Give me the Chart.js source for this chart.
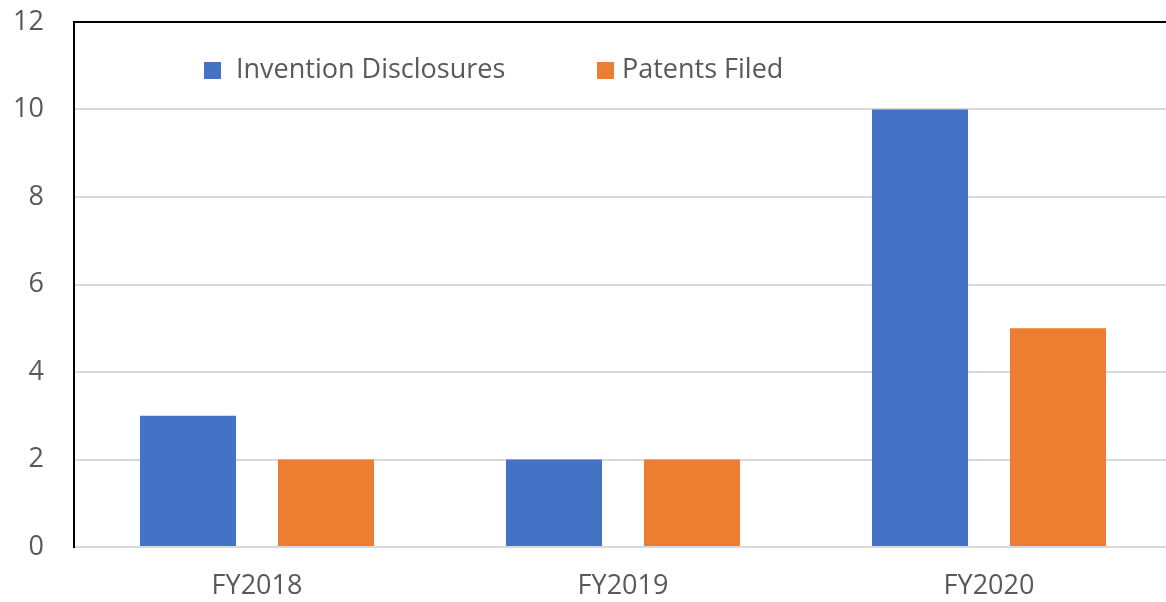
<!DOCTYPE html>
<html>
<head>
<meta charset="utf-8">
<script src="https://cdn.jsdelivr.net/npm/chart.js@4/dist/chart.umd.min.js"></script>
<style>
html,body{margin:0;padding:0;background:#fff;overflow:hidden;width:1166px;height:602px;}
#wrap{width:1172px;height:602px;}
</style>
</head>
<body>
<div id="wrap"><canvas id="c" width="1172" height="602"></canvas></div>
<script>
const categories = ["FY2018", "FY2019", "FY2020"];
const inventionDisclosures = [3, 2, 10];
const patentsFiled = [2, 2, 5];
const seriesNames = ["Invention Disclosures", "Patents Filed"];
const yTicks = [0, 2, 4, 6, 8, 10, 12];

const FONT = "'Open Sans', sans-serif";
const TEXT = '#595959';
const FS = 27;

const insideLegend = {
  id: 'insideLegend',
  afterDraw(chart) {
    const ctx = chart.ctx;
    ctx.save();
    ctx.font = FS + 'px ' + FONT;
    ctx.textBaseline = 'middle';
    ctx.textAlign = 'left';
    const y = 70;
    const boxX = [204, 597];
    const textX = [236, 622];
    chart.data.datasets.forEach((ds, i) => {
      ctx.fillStyle = ds.backgroundColor;
      ctx.fillRect(boxX[i], y - 8, 17, 17);
      ctx.fillStyle = TEXT;
      ctx.fillText(ds.label, textX[i], y);
    });
    ctx.restore();
  }
};

new Chart(document.getElementById('c'), {
  type: 'bar',
  data: {
    labels: categories,
    datasets: [
      { label: seriesNames[0], data: inventionDisclosures, backgroundColor: '#4472C4',
        categoryPercentage: 0.754, barPercentage: 0.696 },
      { label: seriesNames[1], data: patentsFiled, backgroundColor: '#ED7D31',
        categoryPercentage: 0.754, barPercentage: 0.696 }
    ]
  },
  options: {
    responsive: false,
    animation: false,
    layout: { padding: { top: 22, right: 0, bottom: 0, left: 0 } },
    plugins: { legend: { display: false }, tooltip: { enabled: false } },
    scales: {
      x: {
        grid: { display: false, drawTicks: false },
        border: { display: true, color: '#d9d9d9', width: 2 },
        ticks: { color: TEXT, font: { family: FONT, size: FS }, padding: 23 },
        afterFit(s) { s.height = 55; s.paddingLeft = 0; s.paddingRight = 0; }
      },
      y: {
        min: 0, max: 12,
        afterBuildTicks(s) { s.ticks = yTicks.map(v => ({ value: v })); },
        grid: {
          drawTicks: false,
          lineWidth: 2,
          color: (c) => (c.tick && c.tick.value === 12) ? '#000000' : '#d9d9d9'
        },
        border: { display: true, color: '#000000', width: 2 },
        ticks: { color: TEXT, font: { family: FONT, size: FS }, padding: 30 },
        afterFit(s) { s.width = 74; s.paddingTop = 0; s.paddingBottom = 0; }
      }
    }
  },
  plugins: [insideLegend]
});
</script>
</body>
</html>
